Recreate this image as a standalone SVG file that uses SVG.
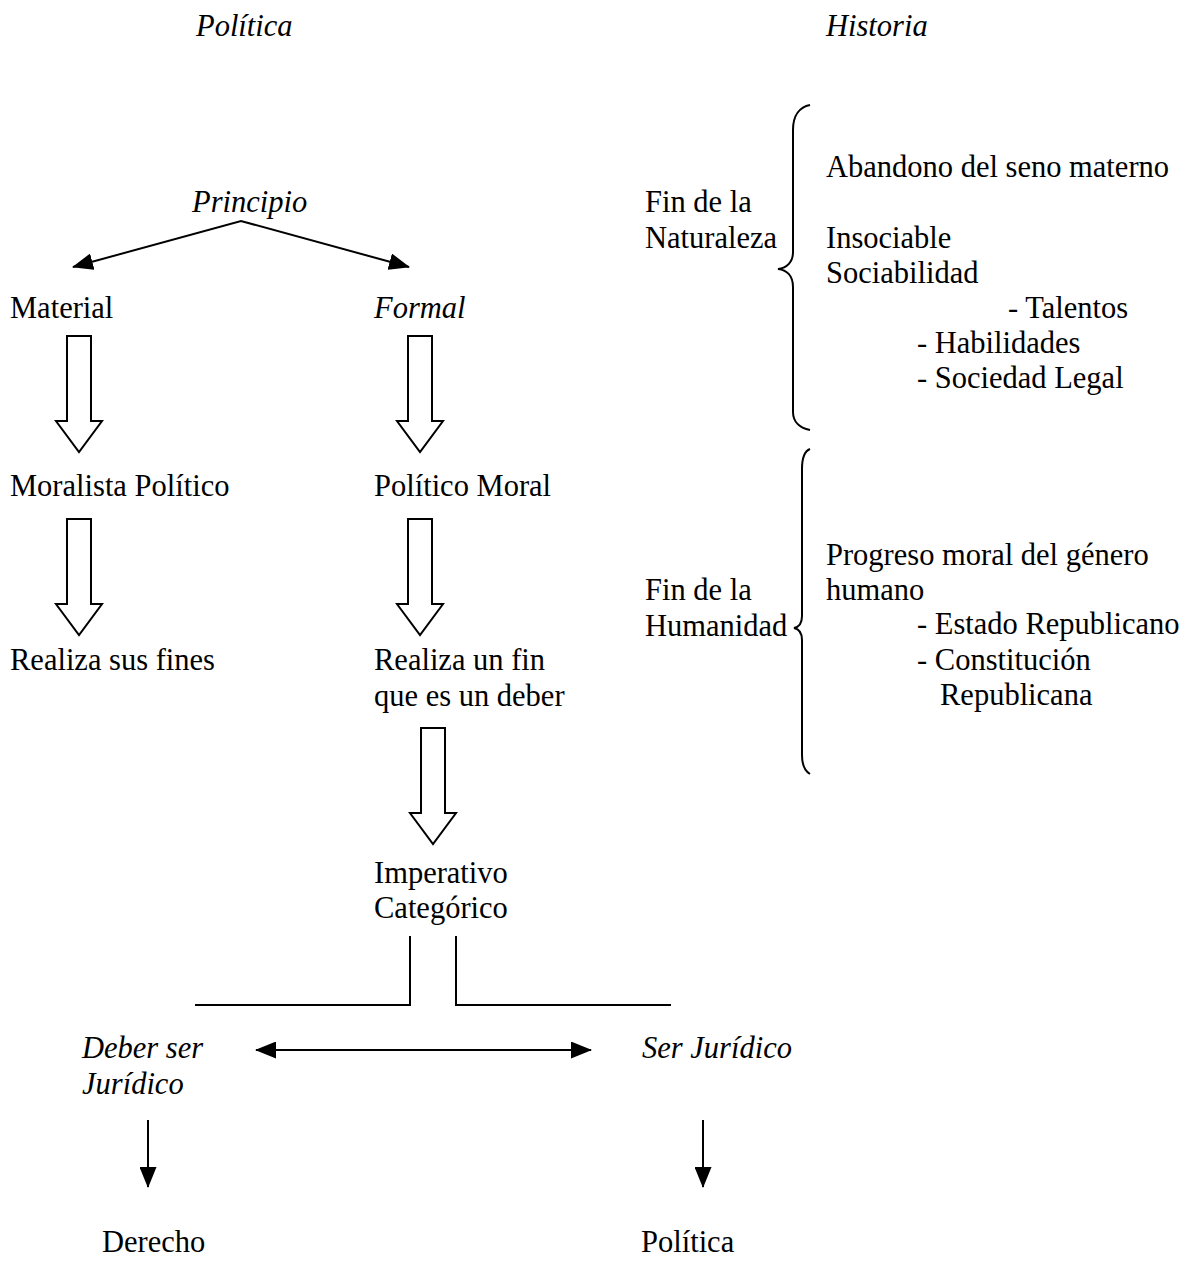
<svg xmlns="http://www.w3.org/2000/svg" xmlns:xlink="http://www.w3.org/1999/xlink" width="1185" height="1276" viewBox="0 0 1185 1276">
<style>
text{font-family:"Liberation Serif","Times New Roman",serif;font-size:30.5px;fill:#000}
.it{font-style:italic}
.ln{stroke:#000;stroke-width:2;fill:none}
.blk{stroke:#000;stroke-width:2;fill:#fff;stroke-linejoin:miter}
</style>
<defs>
<marker id="ah" viewBox="0 0 21 17" refX="20" refY="8.5" markerWidth="21" markerHeight="17" markerUnits="userSpaceOnUse" orient="auto-start-reverse">
<path d="M0,0 L21,8.5 L0,17 Z" fill="#000"/>
</marker>
<path id="blockArrow" d="M-12,0 L12,0 L12,85 L23,85 L0,116 L-23,85 L-12,85 Z"/>
</defs>
<rect width="1185" height="1276" fill="#fff"/>

<g id="headers">
<text class="it" x="196" y="36">Política</text>
<text class="it" x="826" y="36">Historia</text>
</g>

<g id="n-principio"><text class="it" x="192" y="212">Principio</text></g>
<g id="n-material"><text x="10" y="318">Material</text></g>
<g id="n-formal"><text class="it" x="374" y="318">Formal</text></g>
<g id="n-moralista"><text x="10" y="496">Moralista Político</text></g>
<g id="n-politicomoral"><text x="374" y="496">Político Moral</text></g>
<g id="n-realizasus"><text x="10" y="670">Realiza sus fines</text></g>
<g id="n-realizaun"><text x="374" y="670">Realiza un fin</text><text x="374" y="706">que es un deber</text></g>
<g id="n-imperativo"><text x="374" y="883">Imperativo</text><text x="374" y="918">Categórico</text></g>
<g id="n-deberser"><text class="it" x="82" y="1058">Deber ser</text><text class="it" x="82" y="1094">Jurídico</text></g>
<g id="n-serjuridico"><text class="it" x="642" y="1058">Ser Jurídico</text></g>
<g id="n-derecho"><text x="102" y="1252">Derecho</text></g>
<g id="n-politica"><text x="641" y="1252">Política</text></g>

<g id="n-naturaleza">
<text x="645" y="212">Fin de la</text>
<text x="645" y="248">Naturaleza</text>
<path class="ln" d="M810,105 C800,107 793,115 793,130 L793,252 C793,262 787,268 778,269 C787,270 793,276 793,287 L793,412 C793,422 800,428 810,430"/>
<text x="826" y="177">Abandono del seno materno</text>
<text x="826" y="248">Insociable</text>
<text x="826" y="283">Sociabilidad</text>
<text x="1008" y="318">- Talentos</text>
<text x="917" y="353">- Habilidades</text>
<text x="917" y="388">- Sociedad Legal</text>
</g>

<g id="n-humanidad">
<text x="645" y="600">Fin de la</text>
<text x="645" y="636">Humanidad</text>
<path class="ln" d="M810,449 C805,451 802,458 802,469 L802,616 C802,623 799,627 794,628 C799,629 802,633 802,640 L802,755 C802,765 805,771 810,774"/>
<text x="826" y="565">Progreso moral del género</text>
<text x="826" y="600">humano</text>
<text x="917" y="634">- Estado Republicano</text>
<text x="917" y="670">- Constitución</text>
<text x="940" y="705">Republicana</text>
</g>

<g id="connectors">
<path class="ln" d="M73,267 L241,221 L409,267" marker-start="url(#ah)" marker-end="url(#ah)"/>
<use href="#blockArrow" xlink:href="#blockArrow" class="blk" transform="translate(79,336)"/>
<use href="#blockArrow" xlink:href="#blockArrow" class="blk" transform="translate(420,336)"/>
<use href="#blockArrow" xlink:href="#blockArrow" class="blk" transform="translate(79,519)"/>
<use href="#blockArrow" xlink:href="#blockArrow" class="blk" transform="translate(420,519)"/>
<use href="#blockArrow" xlink:href="#blockArrow" class="blk" transform="translate(433,728)"/>
<path class="ln" d="M195,1005 L410,1005 L410,936"/>
<path class="ln" d="M456,936 L456,1005 L671,1005"/>
<path class="ln" d="M256,1050 L591,1050" marker-start="url(#ah)" marker-end="url(#ah)"/>
<path class="ln" d="M148,1120 L148,1187" marker-end="url(#ah)"/>
<path class="ln" d="M703,1120 L703,1187" marker-end="url(#ah)"/>
</g>
</svg>
